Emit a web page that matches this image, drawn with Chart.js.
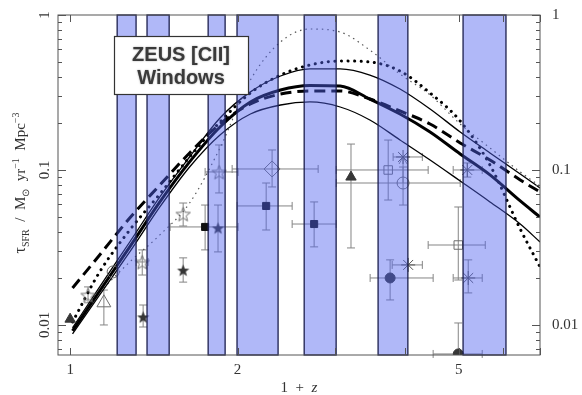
<!DOCTYPE html>
<html>
<head>
<meta charset="utf-8">
<script src="https://cdn.jsdelivr.net/npm/chart.js@4"></script>
<style>
html, body { margin: 0; padding: 0; background: #fff; }
canvas { display: block; }
</style>
</head>
<body>
<canvas id="sfrChart" width="582" height="395"></canvas>
<script>
// ZEUS [CII] redshift windows (in 1+z)
const windowLo = [1.215, 1.375, 1.771, 1.996, 2.636, 3.58, 5.09];
const windowHi = [1.314, 1.507, 1.900, 2.366, 3.009, 4.05, 6.08];

// star formation rate density models, Msun / yr / Mpc^3
const modelZ = [1.01, 1.13, 1.28, 1.45, 1.64, 1.86, 2.11, 2.39, 2.70, 3.06, 3.46, 3.92, 4.44, 5.03, 5.69, 6.45, 7.0];
const sfrMid = [0.00915, 0.01657, 0.0319, 0.0622, 0.1127, 0.1894, 0.2747, 0.328, 0.351, 0.348, 0.287, 0.2298, 0.1758, 0.1268, 0.0929, 0.0631, 0.0497];
const sfrHigh = [0.00957, 0.01759, 0.0343, 0.0670, 0.1213, 0.2165, 0.319, 0.404, 0.449, 0.449, 0.410, 0.333, 0.2475, 0.1758, 0.1288, 0.0942, 0.0765];
const sfrLow = [0.00875, 0.01562, 0.0296, 0.0577, 0.1045, 0.1682, 0.2298, 0.2626, 0.2747, 0.2549, 0.2102, 0.1562, 0.1160, 0.0849, 0.0622, 0.0448, 0.0343];
const sfrDashed = [0.01733, 0.0283, 0.0490, 0.0800, 0.1288, 0.198, 0.2667, 0.309, 0.3234, 0.3234, 0.287, 0.2403, 0.198, 0.1494, 0.1160, 0.0862, 0.0721];
const sfrDotted = [0.01046, 0.02198, 0.0410, 0.070, 0.1213, 0.204, 0.314, 0.410, 0.4757, 0.505, 0.4975, 0.435, 0.314, 0.207, 0.1077, 0.0416, 0.0237];
const thinDottedZ = [1.13, 1.28, 1.45, 1.64, 1.86, 2.11, 2.39, 2.70, 3.06, 3.46, 3.92, 4.44, 5.03, 5.69, 6.45, 7.0];
const sfrThinDotted = [0.01633, 0.0255, 0.0381, 0.0612, 0.1387, 0.381, 0.670, 0.812, 0.777, 0.594, 0.416, 0.305, 0.198, 0.1387, 0.0971, 0.0788];

// measurements: x = 1+z, y = SFRD, optional error ranges
const filledTriangles = [
    { x: 1.00, y: 0.0109 },
    { x: 3.20, y: 0.090, ylo: 0.0314, yhi: 0.147 }
];
const openTriangles = [
    { x: 1.15, y: 0.0139, ylo: 0.0100, yhi: 0.0168 }
];
const openCircles = [
    { x: 1.195, y: 0.022 },
    { x: 3.97, y: 0.0824, ylo: 0.0594, yhi: 0.1045, xlo: 3.01, xhi: 5.03 }
];
const filledStars = [
    { x: 1.353, y: 0.01127, ylo: 0.0097, yhi: 0.01345 },
    { x: 1.597, y: 0.0226, ylo: 0.0189, yhi: 0.0271 },
    { x: 1.845, y: 0.0423, ylo: 0.0296, yhi: 0.0594 }
];
const openStars = [
    { x: 1.077, y: 0.0156, ylo: 0.0139, yhi: 0.0176 },
    { x: 1.348, y: 0.0255, ylo: 0.021, yhi: 0.0305, xlo: 1.314, xhi: 1.381 },
    { x: 1.597, y: 0.052, ylo: 0.0435, yhi: 0.0612 },
    { x: 1.853, y: 0.0971, ylo: 0.0711, yhi: 0.145, xlo: 1.749, xhi: 2.005 }
];
const filledSquares = [
    { x: 1.749, y: 0.0429, ylo: 0.0305, yhi: 0.0594, xlo: 1.513, xhi: 2.005 },
    { x: 2.252, y: 0.0586, ylo: 0.041, yhi: 0.0824, xlo: 1.997, xhi: 2.508 },
    { x: 2.747, y: 0.0448, ylo: 0.0319, yhi: 0.0622, xlo: 2.508, xhi: 3.009 }
];
const openSquares = [
    { x: 3.733, y: 0.1, ylo: 0.064, yhi: 0.156, xlo: 3.009, xhi: 4.405 },
    { x: 4.99, y: 0.0328, ylo: 0.0195, yhi: 0.0577, xlo: 4.405, xhi: 5.58 }
];
const openDiamonds = [
    { x: 2.308, y: 0.1015, ylo: 0.0777, yhi: 0.1346, xlo: 1.956, xhi: 2.793 }
];
const asterisks = [
    { x: 3.97, y: 0.1213, xlo: 3.81, xhi: 4.30, arrowFrom: 0.0824 },
    { x: 5.18, y: 0.1, ylo: 0.09, yhi: 0.111, xlo: 4.886, xhi: 5.51 },
    { x: 4.055, y: 0.0244, xlo: 3.795, xhi: 4.30 },
    { x: 5.20, y: 0.0201, ylo: 0.0161, yhi: 0.0263, xlo: 4.886, xhi: 5.51 }
];
const filledCircles = [
    { x: 3.763, y: 0.0201, ylo: 0.0145, yhi: 0.0263, xlo: 3.464, xhi: 4.497 },
    { x: 4.99, y: 0.0065, yhi: 0.0103, xlo: 4.497, xhi: 5.51 }
];

const xTicks = [1, 2, 3, 4, 5, 6, 7];
const xLabels = [1, 2, 5];
const yLabels = [0.01, 0.1, 1];

const darkMark = '#363636';
const openMark = '#6e6e6e';
const errColor = '#858585';

function starImage(size, filled) {
    const c = document.createElement('canvas');
    c.width = size;
    c.height = size;
    const g = c.getContext('2d');
    const cx = size / 2, cy = size / 2 + size * 0.05;
    const R = size / 2 - 1, r = R * 0.42;
    g.beginPath();
    for (let i = 0; i < 10; i++) {
        const a = -Math.PI / 2 + i * Math.PI / 5;
        const rad = i % 2 ? r : R;
        g.lineTo(cx + rad * Math.cos(a), cy + rad * Math.sin(a));
    }
    g.closePath();
    if (filled) {
        g.fillStyle = darkMark;
        g.fill();
    } else {
        g.strokeStyle = openMark;
        g.lineWidth = 1;
        g.stroke();
    }
    return c;
}

function curve(xs, ys, style) {
    return Object.assign({
        type: 'scatter',
        showLine: true,
        data: xs.map((x, i) => ({ x: x, y: ys[i] })),
        borderColor: '#000',
        borderWidth: 1.3,
        pointRadius: 0,
        cubicInterpolationMode: 'monotone',
        order: 2
    }, style);
}

function markers(data, style) {
    return Object.assign({
        type: 'scatter',
        data: data,
        errors: true,
        pointRadius: 5,
        borderWidth: 1,
        backgroundColor: darkMark,
        borderColor: darkMark,
        order: 1
    }, style);
}

const open = { backgroundColor: 'rgba(0,0,0,0)', borderColor: openMark };

// error bars are drawn under the markers
const errorBars = {
    id: 'errorBars',
    beforeDatasetsDraw(chart) {
        const { ctx, scales: { x, y } } = chart;
        const cap = 4;
        ctx.save();
        ctx.strokeStyle = errColor;
        ctx.lineWidth = 1;
        chart.data.datasets.forEach(ds => {
            if (!ds.errors) return;
            ds.data.forEach(p => {
                const px = x.getPixelForValue(p.x);
                const py = y.getPixelForValue(p.y);
                ctx.beginPath();
                if (p.xlo) {
                    const a = x.getPixelForValue(p.xlo), b = x.getPixelForValue(p.xhi);
                    ctx.moveTo(a, py); ctx.lineTo(b, py);
                    ctx.moveTo(a, py - cap); ctx.lineTo(a, py + cap);
                    ctx.moveTo(b, py - cap); ctx.lineTo(b, py + cap);
                }
                if (p.yhi) {
                    const a = p.ylo ? y.getPixelForValue(p.ylo) : chart.chartArea.bottom;
                    const b = y.getPixelForValue(p.yhi);
                    ctx.moveTo(px, a); ctx.lineTo(px, b);
                    ctx.moveTo(px - cap, b); ctx.lineTo(px + cap, b);
                    if (p.ylo) { ctx.moveTo(px - cap, a); ctx.lineTo(px + cap, a); }
                }
                if (p.arrowFrom) {
                    const a = y.getPixelForValue(p.arrowFrom);
                    ctx.moveTo(px, a); ctx.lineTo(px, py);
                    ctx.moveTo(px - 4, py + 7); ctx.lineTo(px, py); ctx.lineTo(px + 4, py + 7);
                }
                ctx.stroke();
            });
        });
        ctx.restore();
    }
};

// translucent windows, frame, ticks, labels and the window caption
const decorations = {
    id: 'decorations',
    afterDatasetsDraw(chart) {
        const { ctx, chartArea: area, scales: { x, y } } = chart;
        ctx.save();

        windowLo.forEach((lo, i) => {
            const l = x.getPixelForValue(lo);
            const r = x.getPixelForValue(windowHi[i]);
            ctx.fillStyle = 'rgba(80,98,240,0.45)';
            ctx.fillRect(l, area.top, r - l, area.bottom - area.top);
            ctx.strokeStyle = '#1c1f4e';
            ctx.lineWidth = 1.3;
            ctx.strokeRect(l, area.top, r - l, area.bottom - area.top);
        });

        ctx.strokeStyle = '#555';
        ctx.lineWidth = 1;
        ctx.strokeRect(area.left, area.top, area.right - area.left, area.bottom - area.top);

        ctx.beginPath();
        xTicks.forEach(v => {
            const px = Math.round(x.getPixelForValue(v)) + 0.5;
            ctx.moveTo(px, area.bottom); ctx.lineTo(px, area.bottom - 7);
            ctx.moveTo(px, area.top); ctx.lineTo(px, area.top + 7);
        });
        [0.001, 0.01, 0.1].forEach(d => {
            for (let m = 1; m <= 10; m++) {
                const v = m * d;
                if (v < y.min || v > y.max * 1.0001) continue;
                const py = Math.round(y.getPixelForValue(v)) + 0.5;
                const len = (m === 1 || m === 10) ? 8 : 4;
                ctx.moveTo(area.left, py); ctx.lineTo(area.left + len, py);
                ctx.moveTo(area.right, py); ctx.lineTo(area.right - len, py);
            }
        });
        ctx.stroke();

        // rotated labels on the left axis
        ctx.fillStyle = '#333';
        ctx.font = '15px "Liberation Serif"';
        ctx.textAlign = 'center';
        ctx.textBaseline = 'middle';
        yLabels.forEach(v => {
            ctx.save();
            ctx.translate(area.left - 13, y.getPixelForValue(v));
            ctx.rotate(-Math.PI / 2);
            ctx.fillText(String(v), 0, 0);
            ctx.restore();
        });

        // y axis title
        const parts = [
            { t: '\u03c4', f: 16, dy: 0 },
            { t: 'SFR', f: 10, dy: 4 },
            { t: '  /  M', f: 15, dy: 0 },
            { t: '\u2299', f: 10, dy: 4 },
            { t: '  yr', f: 15, dy: 0 },
            { t: '\u22121', f: 10, dy: -6 },
            { t: '  Mpc', f: 15, dy: 0 },
            { t: '\u22123', f: 10, dy: -6 }
        ];
        ctx.textAlign = 'left';
        ctx.textBaseline = 'alphabetic';
        let total = 0;
        parts.forEach(p => { ctx.font = p.f + 'px "Liberation Serif"'; p.w = ctx.measureText(p.t).width; total += p.w; });
        ctx.save();
        ctx.translate(25, 183);
        ctx.rotate(-Math.PI / 2);
        let cx = -total / 2;
        parts.forEach(p => {
            ctx.font = p.f + 'px "Liberation Serif"';
            ctx.fillText(p.t, cx, p.dy);
            cx += p.w;
        });
        ctx.restore();

        // x axis title
        const mid = (area.left + area.right) / 2;
        ctx.font = '15px "Liberation Serif"';
        const w1 = ctx.measureText('1  +  ').width;
        ctx.font = 'italic 15px "Liberation Serif"';
        const w2 = ctx.measureText('z').width;
        ctx.font = '15px "Liberation Serif"';
        ctx.fillText('1  +  ', mid - (w1 + w2) / 2, 392);
        ctx.font = 'italic 15px "Liberation Serif"';
        ctx.fillText('z', mid - (w1 + w2) / 2 + w1, 392);

        // caption box
        const bx = area.left + 56, by = area.top + 21, bw = 134, bh = 58;
        ctx.fillStyle = '#fff';
        ctx.fillRect(bx, by, bw, bh);
        ctx.strokeStyle = '#333';
        ctx.lineWidth = 1.2;
        ctx.strokeRect(bx + 0.5, by + 0.5, bw, bh);
        ctx.fillStyle = '#3a3a3a';
        ctx.shadowColor = 'rgba(0,0,0,0.35)';
        ctx.shadowBlur = 2;
        ctx.font = 'bold 20px "Liberation Sans"';
        ctx.textAlign = 'center';
        ctx.textBaseline = 'middle';
        ctx.fillText('ZEUS [CII]', bx + bw / 2, by + 19);
        ctx.fillText('Windows', bx + bw / 2, by + 42);

        ctx.restore();
    }
};

// keep the plot box fixed: no extra room for labels that hang over the ends
function noOverhang(s) {
    s.paddingTop = 0;
    s.paddingBottom = 0;
    s.paddingLeft = 0;
    s.paddingRight = 0;
}

const ctx = document.getElementById('sfrChart').getContext('2d');
new Chart(ctx, {
    type: 'scatter',
    data: {
        datasets: [
            markers(filledTriangles, { pointStyle: 'triangle', pointRadius: 6 }),
            markers(openTriangles, Object.assign({ pointStyle: 'triangle', pointRadius: 8 }, open)),
            markers(openCircles, Object.assign({ pointStyle: 'circle', pointRadius: 6 }, open)),
            markers(filledStars, { pointStyle: starImage(15, true) }),
            markers(openStars, { pointStyle: starImage(17, false) }),
            markers(filledSquares, { pointStyle: 'rect', pointRadius: 5, backgroundColor: '#111', borderColor: '#111' }),
            markers(openSquares, Object.assign({ pointStyle: 'rect', pointRadius: 6 }, open)),
            markers(openDiamonds, Object.assign({ pointStyle: 'rectRot', pointRadius: 8 }, open)),
            markers(asterisks, { pointStyle: 'star', pointRadius: 7, borderColor: '#555', borderWidth: 1 }),
            markers(filledCircles, { pointStyle: 'circle', pointRadius: 5 }),
            curve(modelZ, sfrMid, { borderWidth: 3 }),
            curve(modelZ, sfrHigh, {}),
            curve(modelZ, sfrLow, {}),
            curve(modelZ, sfrDashed, { borderWidth: 3, borderDash: [11, 6] }),
            curve(modelZ, sfrDotted, { borderWidth: 3, borderDash: [0.1, 6.5], borderCapStyle: 'round' }),
            curve(thinDottedZ, sfrThinDotted, { borderWidth: 1.2, borderDash: [1.5, 4], borderColor: '#555' })
        ]
    },
    options: {
        responsive: false,
        animation: false,
        events: [],
        layout: { padding: { top: 15 } },
        plugins: { legend: { display: false }, tooltip: { enabled: false } },
        scales: {
            x: {
                type: 'logarithmic',
                position: 'bottom',
                min: 0.951,
                max: 7.0,
                grid: { display: false, drawTicks: false },
                border: { display: false },
                afterBuildTicks: s => { s.ticks = xTicks.map(v => ({ value: v })); },
                afterFit: s => { s.height = 40; noOverhang(s); },
                ticks: {
                    autoSkip: false,
                    maxRotation: 0,
                    padding: 6,
                    color: '#333',
                    font: { family: 'Liberation Serif', size: 15 },
                    callback: v => xLabels.includes(v) ? String(v) : ''
                }
            },
            y: {
                type: 'logarithmic',
                position: 'left',
                min: 0.0064,
                max: 1,
                grid: { display: false, drawTicks: false },
                border: { display: false },
                ticks: { display: false },
                afterFit: s => { s.width = 58; noOverhang(s); }
            },
            y2: {
                type: 'logarithmic',
                position: 'right',
                min: 0.0064,
                max: 1,
                grid: { display: false, drawTicks: false },
                border: { display: false },
                afterBuildTicks: s => { s.ticks = yLabels.map(v => ({ value: v })); },
                afterFit: s => { s.width = 42; noOverhang(s); },
                ticks: {
                    padding: 12,
                    color: '#333',
                    font: { family: 'Liberation Serif', size: 15 },
                    callback: v => String(v)
                }
            }
        }
    },
    plugins: [errorBars, decorations]
});
</script>
</body>
</html>
